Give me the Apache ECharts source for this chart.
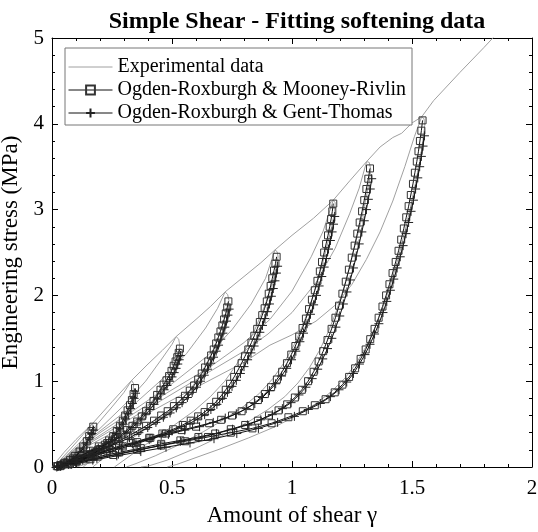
<!DOCTYPE html>
<html><head><meta charset="utf-8">
<script src="https://cdn.jsdelivr.net/npm/echarts@6/dist/echarts.min.js"></script>
<style>html,body{margin:0;padding:0;background:#fff}#c{width:538px;height:532px}</style>
</head><body><div id="c"></div>
<script>
// ---------------- DATA ----------------
const xTicks = [0, 0.5, 1, 1.5, 2];
const yTicks = [0, 1, 2, 3, 4, 5];
const legendNames = ['Experimental data', 'Ogden-Roxburgh & Mooney-Rivlin', 'Ogden-Roxburgh & Gent-Thomas'];

// Experimental: primary (virgin) loading path through the cycle peaks
const expEnvelope = [[0,0],[0.05,0.17],[0.1,0.32],[0.17,0.51],[0.25,0.76],[0.332,1.01],[0.4,1.2],[0.46,1.36],[0.517,1.52],[0.6,1.72],[0.66,1.87],[0.721,2.04],[0.8,2.22],[0.87,2.38],[0.929,2.53],[1.0,2.7],[1.09,2.9],[1.172,3.11],[1.242,3.34],[1.311,3.56],[1.367,3.73],[1.42,3.84],[1.457,3.89],[1.5,4.01],[1.54,4.08],[1.59,4.27],[1.7,4.6],[1.8,4.89],[1.87,5.1]];
// Experimental unloading branches
const expUnload1 = [[0.17,0.51],[0.168,0.45],[0.16,0.38],[0.15,0.3],[0.135,0.2],[0.115,0.1],[0.09,0.03],[0.07,0.0]];
const expUnload2 = [[0.332,1.01],[0.34,0.97],[0.338,0.88],[0.33,0.78],[0.318,0.66],[0.3,0.53],[0.278,0.4],[0.25,0.27],[0.21,0.15],[0.16,0.05],[0.1,0.0]];
const expUnload3 = [[0.517,1.52],[0.528,1.49],[0.532,1.42],[0.526,1.33],[0.51,1.2],[0.49,1.08],[0.46,0.94],[0.42,0.78],[0.37,0.6],[0.31,0.43],[0.25,0.28],[0.19,0.14],[0.13,0.0]];
const expUnload4 = [[0.721,2.04],[0.732,2.01],[0.737,1.94],[0.73,1.84],[0.715,1.7],[0.695,1.53],[0.672,1.37],[0.645,1.21],[0.61,1.04],[0.57,0.88],[0.52,0.73],[0.46,0.58],[0.39,0.44],[0.32,0.31],[0.25,0.17],[0.2,0.07],[0.17,0.0]];
const expUnload5 = [[0.929,2.53],[0.938,2.51],[0.942,2.45],[0.935,2.33],[0.92,2.16],[0.9,1.98],[0.875,1.8],[0.845,1.6],[0.81,1.4],[0.77,1.2],[0.72,1.0],[0.66,0.82],[0.59,0.65],[0.51,0.49],[0.43,0.34],[0.36,0.2],[0.3,0.08],[0.26,0.0]];
const expUnload6 = [[1.172,3.11],[1.18,3.08],[1.178,2.98],[1.165,2.8],[1.148,2.6],[1.128,2.38],[1.104,2.14],[1.077,1.9],[1.046,1.66],[1.01,1.43],[0.968,1.22],[0.92,1.03],[0.865,0.86],[0.8,0.71],[0.72,0.56],[0.63,0.41],[0.53,0.26],[0.43,0.13],[0.35,0.04],[0.31,0.0]];
const expUnload7 = [[1.311,3.56],[1.322,3.55],[1.328,3.47],[1.322,3.32],[1.306,3.1],[1.286,2.85],[1.264,2.6],[1.24,2.33],[1.214,2.07],[1.185,1.82],[1.152,1.58],[1.115,1.36],[1.073,1.16],[1.025,0.98],[0.97,0.82],[0.9,0.67],[0.82,0.53],[0.72,0.38],[0.6,0.22],[0.48,0.08],[0.4,0.01],[0.37,0.0]];
const expUnload8 = [[1.54,4.08],[1.55,4.06],[1.553,3.98],[1.546,3.8],[1.532,3.56],[1.514,3.3],[1.494,3.03],[1.47,2.74],[1.444,2.45],[1.415,2.17],[1.384,1.9],[1.35,1.65],[1.312,1.42],[1.27,1.22],[1.222,1.04],[1.165,0.88],[1.1,0.74],[1.02,0.6],[0.93,0.47],[0.82,0.34],[0.7,0.21],[0.6,0.11],[0.52,0.03],[0.48,0.0]];
// Experimental reloading branches
const expReload1 = [[0.02,0.04],[0.08,0.22],[0.13,0.38],[0.17,0.51]];
const expReload2 = [[0.02,0.03],[0.1,0.24],[0.18,0.47],[0.25,0.7],[0.3,0.87],[0.332,1.01]];
const expReload3 = [[0.02,0.03],[0.1,0.22],[0.2,0.45],[0.3,0.72],[0.39,1.0],[0.46,1.27],[0.5,1.43],[0.517,1.52]];
const expReload4 = [[0.02,0.03],[0.1,0.21],[0.2,0.42],[0.33,0.7],[0.45,1.0],[0.56,1.32],[0.64,1.62],[0.69,1.85],[0.721,2.04]];
const expReload5 = [[0.02,0.02],[0.1,0.2],[0.2,0.4],[0.35,0.68],[0.5,0.97],[0.65,1.3],[0.75,1.6],[0.83,1.9],[0.89,2.2],[0.929,2.53]];
const expReload6 = [[0.02,0.02],[0.1,0.19],[0.2,0.37],[0.35,0.64],[0.5,0.9],[0.65,1.15],[0.8,1.45],[0.908,1.72],[1.0,2.05],[1.08,2.45],[1.13,2.75],[1.172,3.11]];
const expReload7 = [[0.02,0.02],[0.1,0.18],[0.2,0.35],[0.35,0.6],[0.5,0.85],[0.65,1.1],[0.8,1.35],[0.9,1.55],[1.0,1.8],[1.1,2.15],[1.18,2.55],[1.24,2.95],[1.28,3.25],[1.311,3.56]];
const expReload8 = [[0.02,0.02],[0.1,0.17],[0.2,0.32],[0.35,0.55],[0.5,0.78],[0.65,1.0],[0.8,1.22],[0.908,1.42],[1.0,1.54],[1.1,1.7],[1.186,1.9],[1.25,2.13],[1.31,2.42],[1.367,2.74],[1.42,3.1],[1.47,3.5],[1.51,3.85],[1.54,4.08]];

// Ogden-Roxburgh & Mooney-Rivlin (unloading fits)
const mrCycle1 = [[0.172,0.47],[0.165,0.42],[0.155,0.36],[0.145,0.30],[0.13,0.24],[0.115,0.18],[0.095,0.13],[0.075,0.08],[0.05,0.04],[0.025,0.01]];
const mrCycle2 = [[0.346,0.92],[0.340,0.85],[0.333,0.78],[0.325,0.72],[0.315,0.66],[0.305,0.60],[0.295,0.54],[0.283,0.48],[0.270,0.42],[0.255,0.36],[0.238,0.31],[0.220,0.26],[0.200,0.21],[0.178,0.17],[0.155,0.13],[0.130,0.09],[0.100,0.06],[0.070,0.03],[0.035,0.01]];
const mrCycle3 = [[0.533,1.38],[0.528,1.33],[0.522,1.28],[0.515,1.23],[0.507,1.18],[0.498,1.12],[0.488,1.06],[0.477,1.01],[0.465,0.96],[0.452,0.90],[0.438,0.84],[0.423,0.77],[0.408,0.71],[0.392,0.65],[0.374,0.59],[0.355,0.53],[0.335,0.48],[0.313,0.43],[0.290,0.38],[0.262,0.33],[0.230,0.28],[0.195,0.24],[0.158,0.19],[0.122,0.14],[0.088,0.10],[0.055,0.05],[0.025,0.01]];
const mrCycle4 = [[0.735,1.93],[0.730,1.86],[0.724,1.79],[0.717,1.72],[0.710,1.65],[0.702,1.58],[0.693,1.51],[0.684,1.44],[0.674,1.37],[0.663,1.30],[0.651,1.23],[0.638,1.16],[0.624,1.09],[0.609,1.02],[0.592,0.95],[0.574,0.89],[0.554,0.83],[0.532,0.77],[0.508,0.71],[0.482,0.65],[0.455,0.60],[0.425,0.54],[0.392,0.48],[0.356,0.42],[0.318,0.36],[0.278,0.30],[0.236,0.25],[0.192,0.20],[0.148,0.15],[0.104,0.10],[0.062,0.05],[0.025,0.01]];
const mrCycle5 = [[0.936,2.45],[0.931,2.37],[0.925,2.29],[0.918,2.20],[0.911,2.11],[0.903,2.02],[0.895,1.93],[0.886,1.85],[0.876,1.77],[0.866,1.69],[0.855,1.61],[0.843,1.53],[0.831,1.45],[0.818,1.37],[0.804,1.29],[0.790,1.21],[0.775,1.13],[0.759,1.05],[0.742,0.97],[0.724,0.90],[0.705,0.83],[0.684,0.76],[0.661,0.70],[0.636,0.64],[0.609,0.59],[0.578,0.54],[0.545,0.49],[0.505,0.44],[0.460,0.39],[0.410,0.34],[0.355,0.29],[0.295,0.24],[0.230,0.19],[0.165,0.14],[0.100,0.08],[0.040,0.02]];
const mrCycle6 = [[1.172,3.07],[1.168,2.98],[1.163,2.89],[1.157,2.80],[1.150,2.70],[1.142,2.60],[1.134,2.50],[1.125,2.39],[1.116,2.28],[1.106,2.17],[1.095,2.06],[1.083,1.95],[1.071,1.84],[1.058,1.73],[1.044,1.62],[1.030,1.52],[1.014,1.41],[0.997,1.31],[0.979,1.21],[0.959,1.11],[0.937,1.02],[0.913,0.93],[0.887,0.85],[0.858,0.78],[0.826,0.71],[0.790,0.65],[0.750,0.60],[0.705,0.55],[0.655,0.51],[0.600,0.47],[0.540,0.43],[0.475,0.39],[0.405,0.34],[0.330,0.28],[0.250,0.22],[0.170,0.15],[0.095,0.08],[0.035,0.02]];
const mrCycle7 = [[1.325,3.48],[1.318,3.36],[1.310,3.24],[1.301,3.11],[1.292,2.98],[1.282,2.85],[1.272,2.72],[1.261,2.58],[1.249,2.44],[1.237,2.30],[1.224,2.16],[1.210,2.02],[1.196,1.88],[1.181,1.74],[1.165,1.61],[1.148,1.48],[1.130,1.35],[1.111,1.23],[1.090,1.11],[1.067,1.00],[1.041,0.90],[1.012,0.81],[0.980,0.73],[0.944,0.66],[0.904,0.60],[0.858,0.54],[0.805,0.49],[0.745,0.44],[0.680,0.39],[0.610,0.35],[0.535,0.31],[0.455,0.27],[0.370,0.22],[0.280,0.17],[0.190,0.12],[0.105,0.07],[0.035,0.02]];
const mrCycle8 = [[1.544,4.04],[1.539,3.92],[1.533,3.80],[1.527,3.68],[1.520,3.56],[1.512,3.43],[1.504,3.30],[1.495,3.17],[1.486,3.04],[1.476,2.91],[1.466,2.78],[1.455,2.65],[1.444,2.52],[1.432,2.39],[1.419,2.26],[1.406,2.13],[1.392,2.00],[1.377,1.87],[1.361,1.74],[1.344,1.61],[1.326,1.49],[1.307,1.37],[1.286,1.26],[1.263,1.15],[1.238,1.05],[1.210,0.96],[1.178,0.87],[1.140,0.79],[1.095,0.72],[1.045,0.65],[0.985,0.58],[0.915,0.51],[0.835,0.45],[0.745,0.40],[0.650,0.35],[0.555,0.30],[0.455,0.25],[0.355,0.20],[0.255,0.14],[0.160,0.09],[0.075,0.04],[0.020,0.01]];

// Ogden-Roxburgh & Gent-Thomas (unloading fits)
const gtCycle1 = [[0.173,0.43],[0.166,0.39],[0.157,0.34],[0.146,0.28],[0.132,0.22],[0.116,0.17],[0.096,0.12],[0.075,0.07],[0.050,0.03],[0.025,0.01]];
const gtCycle2 = [[0.348,0.86],[0.342,0.80],[0.335,0.74],[0.327,0.68],[0.317,0.62],[0.306,0.56],[0.295,0.50],[0.282,0.45],[0.268,0.39],[0.253,0.34],[0.236,0.29],[0.218,0.24],[0.198,0.20],[0.176,0.16],[0.153,0.12],[0.128,0.08],[0.099,0.05],[0.069,0.03],[0.034,0.01]];
const gtCycle3 = [[0.535,1.30],[0.530,1.25],[0.524,1.20],[0.517,1.15],[0.509,1.10],[0.500,1.05],[0.490,1.00],[0.479,0.95],[0.467,0.90],[0.454,0.85],[0.440,0.79],[0.425,0.73],[0.409,0.67],[0.392,0.62],[0.374,0.56],[0.355,0.51],[0.334,0.46],[0.312,0.41],[0.288,0.36],[0.260,0.31],[0.228,0.27],[0.193,0.22],[0.157,0.18],[0.121,0.13],[0.087,0.09],[0.054,0.05],[0.024,0.01]];
const gtCycle4 = [[0.738,1.84],[0.733,1.77],[0.727,1.70],[0.720,1.63],[0.712,1.56],[0.703,1.49],[0.694,1.42],[0.684,1.35],[0.673,1.28],[0.661,1.21],[0.648,1.14],[0.634,1.07],[0.619,1.00],[0.602,0.93],[0.584,0.87],[0.564,0.81],[0.542,0.75],[0.518,0.69],[0.492,0.63],[0.464,0.58],[0.433,0.52],[0.399,0.46],[0.362,0.40],[0.323,0.34],[0.282,0.29],[0.239,0.24],[0.195,0.19],[0.150,0.14],[0.105,0.09],[0.062,0.05],[0.025,0.01]];
const gtCycle5 = [[0.940,2.34],[0.935,2.26],[0.929,2.17],[0.922,2.08],[0.914,1.99],[0.906,1.90],[0.897,1.81],[0.887,1.73],[0.877,1.65],[0.866,1.57],[0.854,1.49],[0.842,1.41],[0.829,1.33],[0.815,1.25],[0.800,1.17],[0.785,1.09],[0.768,1.01],[0.750,0.94],[0.731,0.87],[0.710,0.80],[0.687,0.73],[0.662,0.67],[0.636,0.61],[0.607,0.56],[0.575,0.51],[0.540,0.47],[0.500,0.42],[0.455,0.37],[0.405,0.32],[0.350,0.27],[0.290,0.22],[0.228,0.17],[0.163,0.12],[0.099,0.07],[0.040,0.02]];
const gtCycle6 = [[1.178,2.92],[1.173,2.83],[1.167,2.74],[1.160,2.64],[1.152,2.54],[1.143,2.43],[1.134,2.33],[1.124,2.22],[1.113,2.11],[1.102,2.00],[1.090,1.89],[1.077,1.78],[1.063,1.67],[1.048,1.56],[1.033,1.46],[1.016,1.35],[0.998,1.25],[0.978,1.15],[0.956,1.06],[0.932,0.97],[0.906,0.89],[0.877,0.81],[0.845,0.74],[0.809,0.68],[0.768,0.62],[0.722,0.57],[0.672,0.52],[0.615,0.47],[0.553,0.43],[0.485,0.38],[0.412,0.33],[0.335,0.27],[0.253,0.21],[0.171,0.14],[0.095,0.07],[0.035,0.02]];
const gtCycle7 = [[1.332,3.36],[1.326,3.24],[1.318,3.12],[1.310,3.00],[1.301,2.87],[1.291,2.74],[1.280,2.60],[1.268,2.46],[1.256,2.32],[1.243,2.18],[1.229,2.04],[1.214,1.90],[1.199,1.76],[1.183,1.63],[1.166,1.50],[1.148,1.38],[1.128,1.26],[1.107,1.14],[1.084,1.03],[1.058,0.93],[1.029,0.84],[0.996,0.75],[0.960,0.68],[0.918,0.61],[0.870,0.55],[0.815,0.49],[0.752,0.44],[0.685,0.39],[0.612,0.34],[0.535,0.30],[0.453,0.25],[0.367,0.20],[0.277,0.15],[0.187,0.10],[0.102,0.05],[0.035,0.01]];
const gtCycle8 = [[1.552,3.86],[1.546,3.74],[1.539,3.62],[1.532,3.50],[1.524,3.37],[1.515,3.24],[1.506,3.11],[1.496,2.98],[1.486,2.85],[1.475,2.72],[1.463,2.58],[1.451,2.45],[1.438,2.32],[1.424,2.19],[1.410,2.06],[1.395,1.93],[1.379,1.80],[1.362,1.67],[1.344,1.55],[1.325,1.43],[1.304,1.31],[1.281,1.20],[1.256,1.09],[1.228,0.99],[1.196,0.90],[1.160,0.82],[1.118,0.74],[1.068,0.67],[1.010,0.59],[0.940,0.52],[0.860,0.45],[0.770,0.39],[0.675,0.33],[0.575,0.28],[0.475,0.23],[0.370,0.18],[0.270,0.13],[0.170,0.08],[0.080,0.03],[0.020,0.0]];

const expCurves = [expEnvelope, expReload1, expReload2, expReload3, expReload4, expReload5, expReload6, expReload7, expReload8,
                   expUnload1, expUnload2, expUnload3, expUnload4, expUnload5, expUnload6, expUnload7, expUnload8];
const mrCurves = [mrCycle1, mrCycle2, mrCycle3, mrCycle4, mrCycle5, mrCycle6, mrCycle7, mrCycle8];
const gtCurves = [gtCycle1, gtCycle2, gtCycle3, gtCycle4, gtCycle5, gtCycle6, gtCycle7, gtCycle8];

// ---------------- CHART ----------------
const FONT = "'Liberation Serif', 'Times New Roman', serif";
const chart = echarts.init(document.getElementById('c'), null, {renderer: 'canvas'});
const axisBase = (extra) => Object.assign({
  type: 'value',
  axisLine: {show: true, onZero: false, lineStyle: {color: '#000', width: 1}},
  axisTick: {show: true, inside: true, length: 6, lineStyle: {color: '#000', width: 1}},
  minorTick: {show: true, splitNumber: 5, length: 3, lineStyle: {color: '#000', width: 1}},
  splitLine: {show: false},
  minorSplitLine: {show: false}
}, extra);
const tickStyle = {fontFamily: FONT, fontSize: 21, color: '#000'};
const nameStyle = {fontFamily: FONT, fontSize: 23, color: '#000'};

const series = [];
expCurves.forEach(d => series.push({
  name: legendNames[0], type: 'line', data: d, symbol: 'none', z: 2,
  lineStyle: {color: '#a0a0a0', width: 1}, itemStyle: {color: '#a0a0a0'}, silent: true
}));
mrCurves.forEach(d => series.push({
  name: legendNames[1], type: 'line', data: d, symbol: 'rect', symbolSize: 7, showAllSymbol: true, z: 3,
  lineStyle: {color: '#111', width: 1},
  itemStyle: {color: 'rgba(0,0,0,0)', borderColor: '#333', borderWidth: 1}, silent: true
}));
gtCurves.forEach(d => series.push({
  name: legendNames[2], type: 'line', data: d, symbol: 'path://M5,0L5,10M0,5L10,5', symbolSize: 9, showAllSymbol: true, z: 4,
  lineStyle: {color: '#111', width: 1},
  itemStyle: {color: 'rgba(0,0,0,0)', borderColor: '#222', borderWidth: 1}, silent: true
}));

chart.setOption({
  animation: false,
  backgroundColor: '#fff',
  title: {
    text: 'Simple Shear - Fitting softening data', left: 292, top: 5, textAlign: 'center',
    textStyle: {fontFamily: FONT, fontSize: 24, fontWeight: 'bold', color: '#000'}
  },
  legend: {
    data: [
      {name: legendNames[0], itemStyle: {opacity: 0}, lineStyle: {width: 1, color: '#a0a0a0'}},
      {name: legendNames[1], lineStyle: {width: 1, color: '#111'}},
      {name: legendNames[2], lineStyle: {width: 1, color: '#111'}}
    ],
    orient: 'vertical', left: 65, top: 48,
    backgroundColor: '#fff', borderColor: '#777', borderWidth: 1,
    padding: [9, 6, 2, 3], itemGap: 3, itemWidth: 44, itemHeight: 11,
    textStyle: {fontFamily: FONT, fontSize: 20, color: '#000', lineHeight: 20}
  },
  grid: {left: 52, right: 6, top: 38, bottom: 65, containLabel: false, outerBoundsMode: 'none'},
  xAxis: [
    axisBase({min: xTicks[0], max: xTicks[xTicks.length - 1], interval: 0.5, position: 'bottom',
      axisLabel: Object.assign({margin: 11}, tickStyle),
      name: 'Amount of shear γ', nameLocation: 'middle', nameGap: 37, nameTextStyle: nameStyle}),
    axisBase({min: xTicks[0], max: xTicks[xTicks.length - 1], interval: 0.5, position: 'top', axisLabel: {show: false}})
  ],
  yAxis: [
    axisBase({min: yTicks[0], max: yTicks[yTicks.length - 1], interval: 1, position: 'left',
      axisLabel: Object.assign({margin: 8}, tickStyle),
      name: 'Engineering stress (MPa)', nameLocation: 'middle', nameGap: 23, nameTextStyle: nameStyle}),
    axisBase({min: yTicks[0], max: yTicks[yTicks.length - 1], interval: 1, position: 'right', axisLabel: {show: false}})
  ],
  series: series
});
</script></body></html>
